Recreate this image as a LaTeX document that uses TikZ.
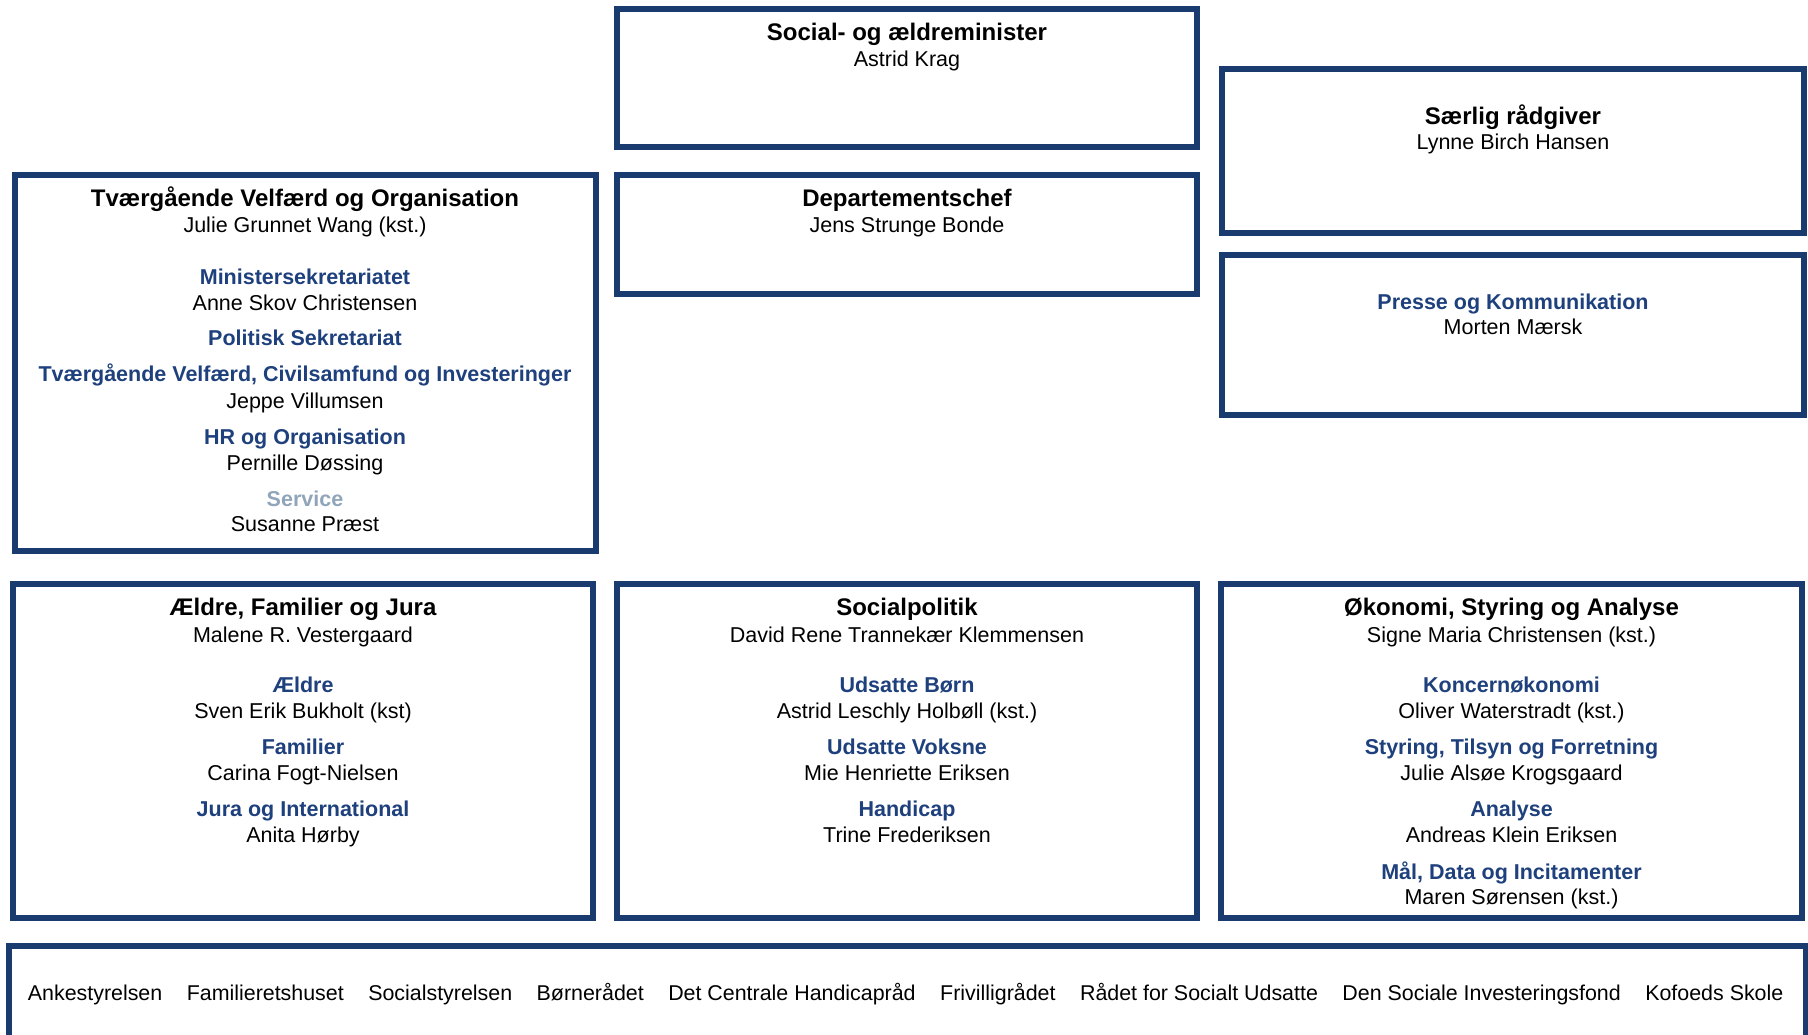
\documentclass[tikz,border=0pt]{standalone}
\usepackage{fontspec}
\setmainfont{Liberation Sans}
\definecolor{navy}{RGB}{26,59,112}
\definecolor{unitblue}{RGB}{30,64,124}
\definecolor{svc}{RGB}{145,165,186}
\begin{document}
\begin{tikzpicture}[x=1pt,y=-1pt,
  box/.style={draw=navy, line width=5.2pt, rectangle, inner sep=0pt, outer sep=0pt, anchor=north west},
  ttl/.style={font=\fontsize{24}{28}\selectfont\bfseries, anchor=base, inner sep=0pt},
  nm/.style={font=\fontsize{21.5}{25}\selectfont, anchor=base, inner sep=0pt},
  unit/.style={font=\fontsize{21.5}{25}\selectfont\bfseries, text=unitblue, anchor=base, inner sep=0pt},
  svcunit/.style={font=\fontsize{21.5}{25}\selectfont\bfseries, text=svc, anchor=base, inner sep=0pt},
  strip/.style={font=\fontsize{21.4}{25}\selectfont, anchor=base west, inner sep=0pt}
]
\useasboundingbox (0,0) rectangle (1808,1034);
% boxes
\node[box, minimum width=580pt, minimum height=138pt] (minbox) at (617,9) {};
\node[box, minimum width=582pt, minimum height=164pt] (raadbox) at (1222,69) {};
\node[box, minimum width=582pt, minimum height=160pt] (pressbox) at (1222,255) {};
\node[box, minimum width=581pt, minimum height=376pt] (tvbox) at (15,175) {};
\node[box, minimum width=580pt, minimum height=119pt] (deptbox) at (617,175) {};
\node[box, minimum width=580pt, minimum height=334pt] (aeldbox) at (13,584) {};
\node[box, minimum width=580pt, minimum height=334pt] (socbox) at (617,584) {};
\node[box, minimum width=581pt, minimum height=334pt] (okobox) at (1221,584) {};
\node[box, minimum width=1797pt, minimum height=110pt] (stripbox) at (9,946) {};

% minister
\node[ttl] (minT) at (907,40.5) {Social- og ældreminister};
\node[nm] (minN) at (907,66.5) {Astrid Krag};
% saerlig
\node[ttl] (raadT) at (1513,124) {Særlig rådgiver};
\node[nm] (raadN) at (1513,149.5) {Lynne Birch Hansen};
% presse
\node[unit] (pressT) at (1513,309.5) {Presse og Kommunikation};
\node[nm] (pressN) at (1513,334.5) {Morten Mærsk};
% departementschef
\node[ttl] (deptT) at (907,206.5) {Departementschef};
\node[nm] (deptN) at (907,232.5) {Jens Strunge Bonde};
% tvaergaaende
\node[ttl] (tvT) at (305,206.5) {Tværgående Velfærd og Organisation};
\node[nm] (tvN) at (305,232.5) {Julie Grunnet Wang (kst.)};
\node[unit] (tvU1) at (305,284.3) {Ministersekretariatet};
\node[nm] (tvP1) at (305,310) {Anne Skov Christensen};
\node[unit] (tvU2) at (305,345.5) {Politisk Sekretariat};
\node[unit] (tvU3) at (305,381.7) {Tværgående Velfærd, Civilsamfund og Investeringer};
\node[nm] (tvP3) at (305,408) {Jeppe Villumsen};
\node[unit] (tvU4) at (305,444.3) {HR og Organisation};
\node[nm] (tvP4) at (305,470) {Pernille Døssing};
\node[svcunit] (tvU5) at (305,506) {Service};
\node[nm] (tvP5) at (305,531.7) {Susanne Præst};
% aeldre
\node[ttl] (aeT) at (303,615.5) {Ældre, Familier og Jura};
\node[nm] (aeN) at (303,642) {Malene R. Vestergaard};
\node[unit] (aeU1) at (303,692.5) {Ældre};
\node[nm] (aeP1) at (303,718.5) {Sven Erik Bukholt (kst)};
\node[unit] (aeU2) at (303,754.5) {Familier};
\node[nm] (aeP2) at (303,780) {Carina Fogt-Nielsen};
\node[unit] (aeU3) at (303,816.5) {Jura og International};
\node[nm] (aeP3) at (303,842) {Anita Hørby};
% socialpolitik
\node[ttl] (soT) at (907,615.5) {Socialpolitik};
\node[nm] (soN) at (907,642) {David Rene Trannekær Klemmensen};
\node[unit] (soU1) at (907,692.5) {Udsatte Børn};
\node[nm] (soP1) at (907,718.5) {Astrid Leschly Holbøll (kst.)};
\node[unit] (soU2) at (907,754.5) {Udsatte Voksne};
\node[nm] (soP2) at (907,780) {Mie Henriette Eriksen};
\node[unit] (soU3) at (907,816.5) {Handicap};
\node[nm] (soP3) at (907,842) {Trine Frederiksen};
% oekonomi
\node[ttl] (okT) at (1511.5,615.5) {Økonomi, Styring og Analyse};
\node[nm] (okN) at (1511.5,642) {Signe Maria Christensen (kst.)};
\node[unit] (okU1) at (1511.5,692.5) {Koncernøkonomi};
\node[nm] (okP1) at (1511.5,718.5) {Oliver Waterstradt (kst.)};
\node[unit] (okU2) at (1511.5,754.5) {Styring, Tilsyn og Forretning};
\node[nm] (okP2) at (1511.5,780) {Julie Alsøe Krogsgaard};
\node[unit] (okU3) at (1511.5,816.5) {Analyse};
\node[nm] (okP3) at (1511.5,842) {Andreas Klein Eriksen};
\node[unit] (okU4) at (1511.5,879) {Mål, Data og Incitamenter};
\node[nm] (okP4) at (1511.5,904.5) {Maren Sørensen (kst.)};
% strip
\node[strip] (s1) at (27.7,1000.5) {Ankestyrelsen};
\node[strip] (s2) at ([xshift=24.1pt]s1.base east) {Familieretshuset};
\node[strip] (s3) at ([xshift=24.1pt]s2.base east) {Socialstyrelsen};
\node[strip] (s4) at ([xshift=24.1pt]s3.base east) {Børnerådet};
\node[strip] (s5) at ([xshift=24.1pt]s4.base east) {Det Centrale Handicapråd};
\node[strip] (s6) at ([xshift=24.1pt]s5.base east) {Frivilligrådet};
\node[strip] (s7) at ([xshift=24.1pt]s6.base east) {Rådet for Socialt Udsatte};
\node[strip] (s8) at ([xshift=24.1pt]s7.base east) {Den Sociale Investeringsfond};
\node[strip] (s9) at ([xshift=24.1pt]s8.base east) {Kofoeds Skole};
\end{tikzpicture}
\end{document}
